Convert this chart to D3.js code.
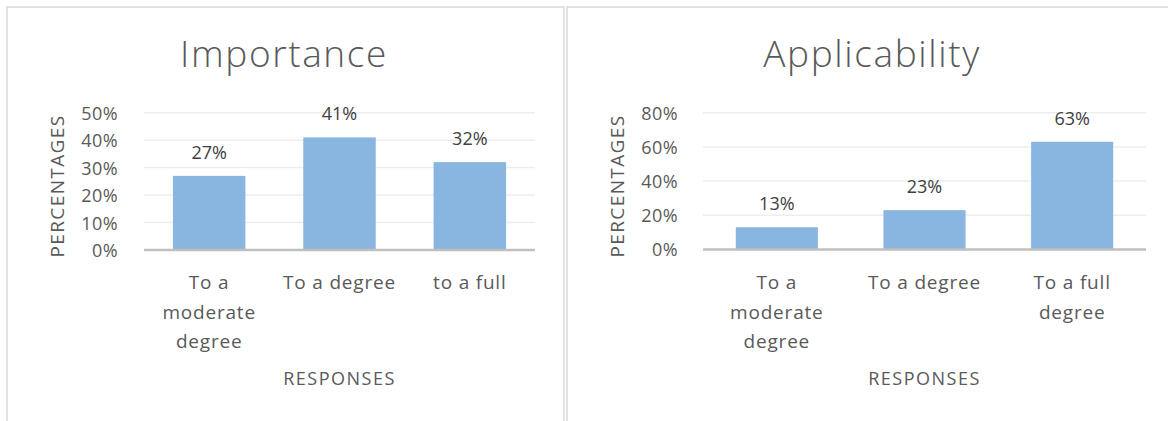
<!DOCTYPE html>
<html>
<head>
<meta charset="utf-8">
<script src="https://cdn.jsdelivr.net/npm/d3@7"></script>
<style>
  html, body { margin: 0; padding: 0; background: #fff; }
  svg { display: block; font-family: "Open Sans", "Noto Sans", sans-serif; }
</style>
</head>
<body>
<svg id="chart" width="1168" height="421"></svg>
<script>
// Survey responses, two panels
const importanceCategories = [["To a", "moderate", "degree"], ["To a degree"], ["to a full"]];
const importanceValues = [0.27, 0.41, 0.32];
const importanceTicks = [0, 0.1, 0.2, 0.3, 0.4, 0.5];

const applicabilityCategories = [["To a", "moderate", "degree"], ["To a degree"], ["To a full", "degree"]];
const applicabilityValues = [0.13, 0.23, 0.63];
const applicabilityTicks = [0, 0.2, 0.4, 0.6, 0.8];

const titles = ["Importance", "Applicability"];
const yAxisTitle = "PERCENTAGES";
const xAxisTitle = "RESPONSES";

const svg = d3.select("#chart");
const barColor = "#89B5E1";
const textDark = "#404040";
const textMid = "#595959";
const pct = d3.format(".0%");

// panel frames
svg.append("rect").attr("x", 7).attr("y", 7).attr("width", 557).attr("height", 440)
  .attr("fill", "none").attr("stroke", "#D9D9D9").attr("stroke-width", 1.5);
svg.append("rect").attr("x", 567).attr("y", 7).attr("width", 640).attr("height", 440)
  .attr("fill", "none").attr("stroke", "#D9D9D9").attr("stroke-width", 1.5);

function drawPanel(cfg) {
  const g = svg.append("g");
  const cats = cfg.categories.map((c, i) => i);
  const x = d3.scaleBand().domain(cats).range([cfg.x0, cfg.x1])
    .paddingInner(0.444).paddingOuter(0.222);
  const y = d3.scaleLinear().domain([0, cfg.max]).range([cfg.yBase, cfg.yTop]);

  // title
  g.append("text").attr("x", cfg.titleX).attr("y", 67)
    .attr("text-anchor", "middle").attr("fill", textMid)
    .style("font-size", "37px").style("font-weight", 300).style("letter-spacing", "1.6px")
    .text(cfg.title);

  // gridlines
  g.append("g").selectAll("line").data(cfg.ticks.filter(t => t > 0)).join("line")
    .attr("x1", cfg.x0).attr("x2", cfg.x1)
    .attr("y1", d => y(d)).attr("y2", d => y(d))
    .attr("stroke", "#EDEDED").attr("stroke-width", 1.5);

  // y axis tick labels
  const yAxis = d3.axisLeft(y).tickValues(cfg.ticks).tickFormat(pct).tickSize(0).tickPadding(0);
  const ya = g.append("g").attr("transform", `translate(${cfg.tickRight},0)`).call(yAxis);
  ya.select(".domain").remove();
  ya.selectAll("text").attr("fill", textMid).style("font-size", "18px")
    .style("letter-spacing", "0.4px").style("font-family", "\"Open Sans\", sans-serif")
    .attr("dy", "0.36em");

  // bars
  g.append("g").selectAll("rect").data(cfg.values).join("rect")
    .attr("x", (d, i) => x(i)).attr("width", x.bandwidth())
    .attr("y", d => y(d)).attr("height", d => y(0) - y(d))
    .attr("fill", barColor);

  // baseline
  g.append("line").attr("x1", cfg.x0).attr("x2", cfg.x1)
    .attr("y1", y(0)).attr("y2", y(0)).attr("stroke", "#BFBFBF").attr("stroke-width", 2.5);

  // value labels
  g.append("g").selectAll("text").data(cfg.values).join("text")
    .attr("x", (d, i) => x(i) + x.bandwidth() / 2).attr("y", d => y(d) - 17)
    .attr("text-anchor", "middle").attr("fill", textDark)
    .style("font-size", "18px")
    .text(d => pct(d));

  // category labels
  const cl = g.append("g").selectAll("text").data(cfg.categories).join("text")
    .attr("x", (d, i) => x(i) + x.bandwidth() / 2).attr("y", 289)
    .attr("text-anchor", "middle").attr("fill", textMid)
    .style("font-size", "19px").style("letter-spacing", "0.8px");
  cl.selectAll("tspan").data((d, i) => d.map(s => ({ s, cx: x(i) + x.bandwidth() / 2 }))).join("tspan")
    .attr("x", d => d.cx).attr("dy", (d, j) => j === 0 ? 0 : 29.5)
    .text(d => d.s);

  // axis titles
  g.append("text").attr("x", (cfg.x0 + cfg.x1) / 2).attr("y", 385)
    .attr("text-anchor", "middle").attr("fill", textMid)
    .style("font-size", "18px").style("letter-spacing", "1.5px").text(xAxisTitle);
  g.append("text")
    .attr("transform", `translate(${cfg.yTitleX},186) rotate(-90)`)
    .attr("text-anchor", "middle").attr("fill", textMid)
    .style("font-size", "19px").style("letter-spacing", "1.4px").text(yAxisTitle);
}

drawPanel({
  title: titles[0], titleX: 284,
  categories: importanceCategories, values: importanceValues, ticks: importanceTicks, max: 0.5,
  x0: 144, x1: 535, yBase: 250, yTop: 112.7, tickRight: 118, yTitleX: 64
});
drawPanel({
  title: titles[1], titleX: 872,
  categories: applicabilityCategories, values: applicabilityValues, ticks: applicabilityTicks, max: 0.8,
  x0: 703, x1: 1146, yBase: 249.5, yTop: 112.7, tickRight: 678, yTitleX: 624
});
</script>
</body>
</html>
